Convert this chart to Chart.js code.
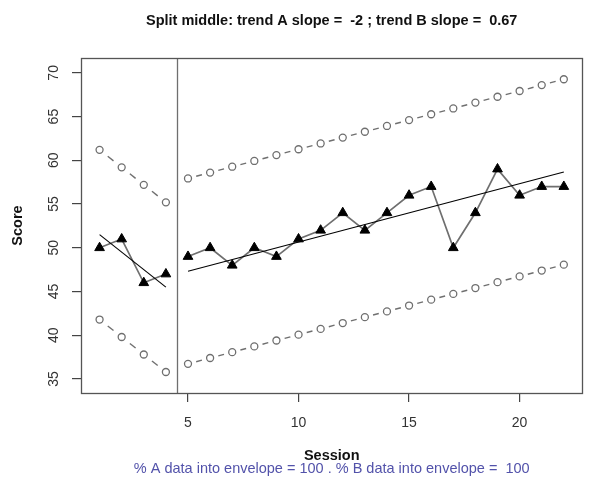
<!DOCTYPE html>
<html>
<head>
<meta charset="utf-8">
<script src="https://cdn.jsdelivr.net/npm/chart.js@4/dist/chart.umd.min.js"></script>
<style>
  html, body { margin: 0; padding: 0; background: #fff; }
  #wrap { width: 589px; height: 484px; }
</style>
</head>
<body>
<div id="wrap"><canvas id="chart" width="589" height="484"></canvas></div>
<script>
// data
const sessionsA = [1, 2, 3, 4];
const scoresA = [50, 51, 46, 47];
const sessionsB = [5, 6, 7, 8, 9, 10, 11, 12, 13, 14, 15, 16, 17, 18, 19, 20, 21, 22];
const scoresB = [49, 50, 48, 50, 49, 51, 52, 54, 52, 54, 56, 57, 50, 54, 59, 56, 57, 57];

// split-middle trend lines (end points)
const trendAx = [1, 4];
const trendAy = [51.5, 45.5];
const trendBx = [5, 22];
const trendBy = [47.33, 58.67];

// envelopes
const upperA = [61.2, 59.2, 57.2, 55.2];
const lowerA = [41.8, 39.8, 37.8, 35.8];
const upperB = [57.93, 58.6, 59.27, 59.93, 60.6, 61.27, 61.93, 62.6, 63.27, 63.93, 64.6, 65.27, 65.93, 66.6, 67.27, 67.93, 68.6, 69.27];
const lowerB = [36.73, 37.4, 38.07, 38.73, 39.4, 40.07, 40.73, 41.4, 42.07, 42.73, 43.4, 44.07, 44.73, 45.4, 46.07, 46.73, 47.4, 48.07];

const phaseChange = 4.5;
const xTicks = [5, 10, 15, 20];
const yTicks = [35, 40, 45, 50, 55, 60, 65, 70];

const titleText = "Split middle: trend A slope =  -2 ; trend B slope =  0.67";
const xTitle = "Session";
const yTitle = "Score";
const subText = "% A data into envelope = 100 . % B data into envelope =  100";

const FONT = "'Liberation Sans', Arial, sans-serif";
const GREY = "#6f6f6f";

function pts(xs, ys) {
    return xs.map((x, i) => ({x: x, y: ys[i]}));
}

function dataSet(xs, ys) {
    return {
        data: pts(xs, ys),
        showLine: true,
        borderColor: GREY,
        borderWidth: 1.7,
        pointStyle: 'triangle',
        pointRadius: 5.6,
        pointBackgroundColor: '#000',
        pointBorderColor: '#000',
        pointBorderWidth: 1,
        order: 1
    };
}
function trendSet(xs, ys) {
    return {
        data: pts(xs, ys),
        showLine: true,
        borderColor: '#000',
        borderWidth: 1.1,
        pointRadius: 0,
        order: 0
    };
}
function envSet(xs, ys) {
    return {
        data: pts(xs, ys),
        showLine: false,
        envelope: true,
        pointStyle: 'circle',
        pointRadius: 3.5,
        pointBackgroundColor: 'rgba(0,0,0,0)',
        pointBorderColor: GREY,
        pointBorderWidth: 1.3,
        order: 2
    };
}

// box, phase line, envelope dashes, texts
const extras = {
    id: 'extras',
    beforeDatasetsDraw(chart) {
        const ctx = chart.ctx;
        const a = chart.chartArea;
        const xs = chart.scales.x;
        ctx.save();
        // phase change line
        const px = Math.round(xs.getPixelForValue(phaseChange)) + 0.5;
        ctx.strokeStyle = GREY;
        ctx.lineWidth = 1.3;
        ctx.beginPath();
        ctx.moveTo(px, a.top);
        ctx.lineTo(px, a.bottom);
        ctx.stroke();
        // short dashes between envelope points
        chart.data.datasets.forEach((ds, i) => {
            if (!ds.envelope) return;
            const m = chart.getDatasetMeta(i).data;
            ctx.strokeStyle = GREY;
            ctx.lineWidth = 1.4;
            for (let k = 0; k < m.length - 1; k++) {
                const p = m[k], q = m[k + 1];
                const dx = q.x - p.x, dy = q.y - p.y;
                ctx.beginPath();
                ctx.moveTo(p.x + dx * 0.37, p.y + dy * 0.37);
                ctx.lineTo(p.x + dx * 0.63, p.y + dy * 0.63);
                ctx.stroke();
            }
        });
        ctx.restore();
    },
    afterDraw(chart) {
        const ctx = chart.ctx;
        const a = chart.chartArea;
        const ys = chart.scales.y;
        const cx = (a.left + a.right) / 2;
        ctx.save();
        // plot box
        ctx.strokeStyle = '#555';
        ctx.lineWidth = 1.3;
        ctx.strokeRect(Math.round(a.left) + 0.5, Math.round(a.top) + 0.5,
            Math.round(a.right - a.left), Math.round(a.bottom - a.top));
        // y tick labels, rotated like R
        ctx.fillStyle = '#333';
        ctx.font = "14px " + FONT;
        ctx.textAlign = 'center';
        ctx.textBaseline = 'middle';
        yTicks.forEach(v => {
            const py = ys.getPixelForValue(v);
            ctx.save();
            ctx.translate(54, py);
            ctx.rotate(-Math.PI / 2);
            ctx.fillText(String(v), 0, 0);
            ctx.restore();
        });
        // title
        ctx.fillStyle = '#111';
        ctx.font = "bold 14.5px " + FONT;
        ctx.fillText(titleText, cx, 21);
        // axis titles
        ctx.fillText(xTitle, cx, 456);
        ctx.save();
        ctx.translate(18, (a.top + a.bottom) / 2);
        ctx.rotate(-Math.PI / 2);
        ctx.fillText(yTitle, 0, 0);
        ctx.restore();
        // envelope note
        ctx.fillStyle = '#5252aa';
        ctx.font = "14.5px " + FONT;
        ctx.fillText(subText, cx, 469);
        ctx.restore();
    }
};

new Chart(document.getElementById('chart').getContext('2d'), {
    type: 'scatter',
    data: {
        datasets: [
            dataSet(sessionsA, scoresA),
            dataSet(sessionsB, scoresB),
            trendSet(trendAx, trendAy),
            trendSet(trendBx, trendBy),
            envSet(sessionsA, upperA),
            envSet(sessionsA, lowerA),
            envSet(sessionsB, upperB),
            envSet(sessionsB, lowerB)
        ]
    },
    options: {
        responsive: false,
        animation: false,
        layout: { padding: { top: 58, right: 4, left: 0, bottom: 0 } },
        plugins: {
            legend: { display: false },
            tooltip: { enabled: false },
            title: { display: false }
        },
        scales: {
            x: {
                type: 'linear',
                min: 0.16,
                max: 22.84,
                afterBuildTicks: s => { s.ticks = xTicks.map(v => ({value: v})); },
                afterFit: s => { s.height = 91; },
                border: { display: false },
                grid: { drawOnChartArea: false, drawTicks: true, tickLength: 9, color: '#444', lineWidth: 1.2 },
                ticks: { color: '#333', font: { family: FONT, size: 14 }, padding: 13, maxRotation: 0 }
            },
            y: {
                type: 'linear',
                min: 33.4,
                max: 71.7,
                afterBuildTicks: s => { s.ticks = yTicks.map(v => ({value: v})); },
                afterFit: s => { s.width = 81; },
                border: { display: false },
                grid: { drawOnChartArea: false, drawTicks: true, tickLength: 9, color: '#444', lineWidth: 1.2 },
                ticks: { display: false }
            }
        }
    },
    plugins: [extras]
});
</script>
</body>
</html>
